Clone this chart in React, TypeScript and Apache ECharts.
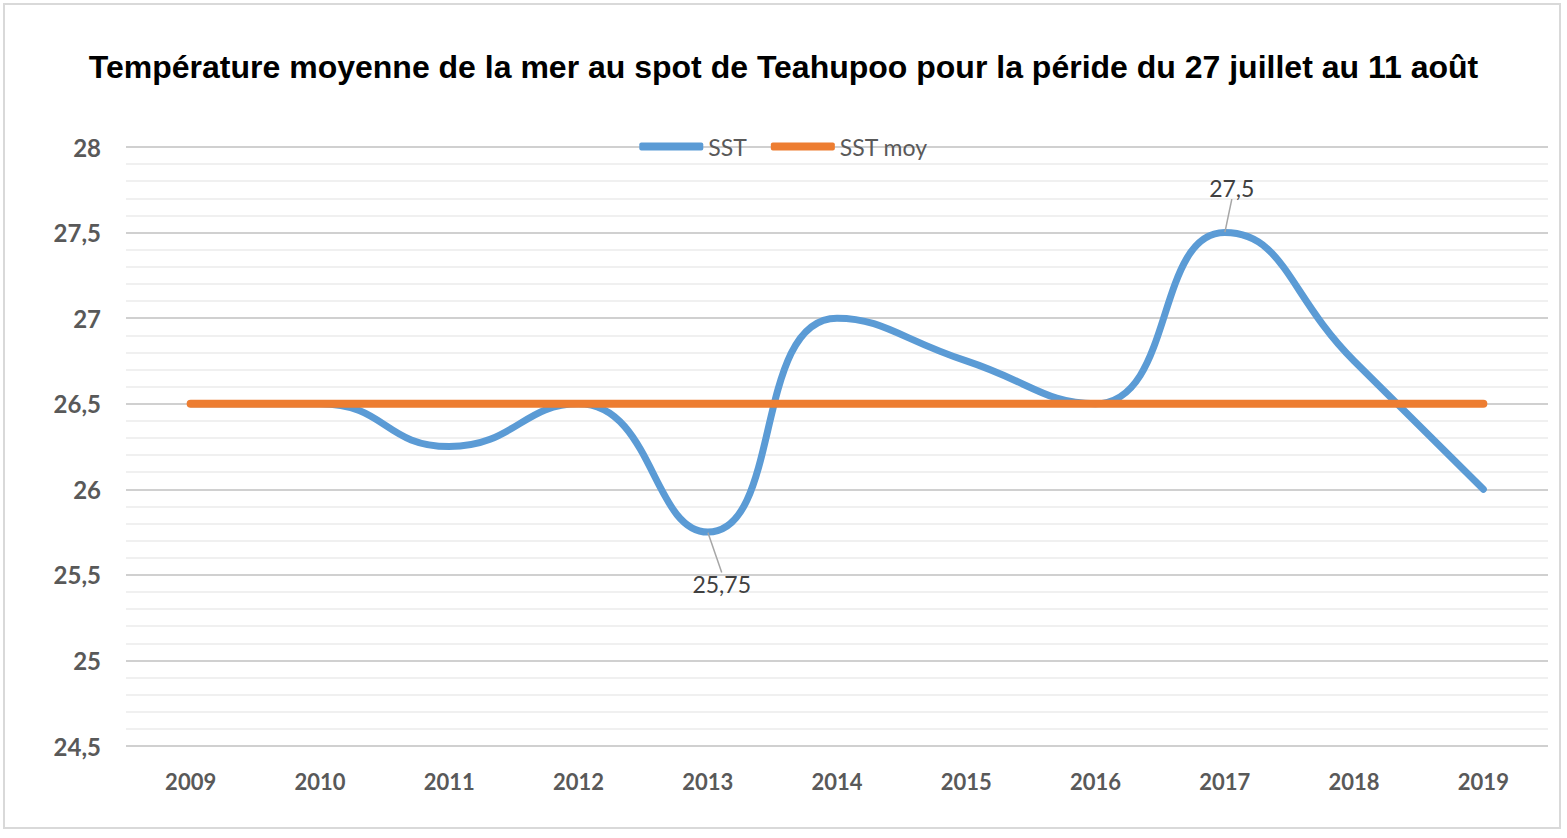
import React, { useEffect, useRef } from "react";
import * as echarts from "echarts";

const years = ["2009", "2010", "2011", "2012", "2013", "2014", "2015", "2016", "2017", "2018", "2019"];
const sst = [26.5, 26.5, 26.25, 26.5, 25.75, 27, 26.75, 26.5, 27.5, 26.75, 26];
const sstMoy = [26.5, 26.5, 26.5, 26.5, 26.5, 26.5, 26.5, 26.5, 26.5, 26.5, 26.5];
const labelledIndices = [4, 8];
const titleText = "Température moyenne de la mer au spot de Teahupoo pour la péride du 27 juillet au 11 août";

const fmt = (v: number) => String(v).replace(".", ",");

export default function App() {
  const ref = useRef<HTMLDivElement>(null);
  useEffect(() => {
    if (!ref.current) return;
    const chart = echarts.init(ref.current, undefined, { renderer: "svg" });
    const axisFont = "Lato";
    chart.setOption({
      animation: false,
      backgroundColor: "#ffffff",
      title: {
        text: titleText,
        left: "center",
        top: 46,
        textStyle: {
          fontFamily: "Liberation Sans",
          fontWeight: "bold",
          fontSize: 32,
          color: "#000000",
        },
      },
      graphic: [
        {
          type: "rect",
          shape: { x: 4, y: 4, width: 1556, height: 824 },
          style: { fill: "none", stroke: "#d9d9d9", lineWidth: 2 },
          silent: true,
        },
      ],
      legend: {
        top: 130,
        left: "center",
        itemWidth: 64,
        itemHeight: 8,
        itemGap: 24,
        icon: "roundRect",
        textStyle: { fontFamily: axisFont, fontSize: 23, color: "#595959" },
        data: ["SST", "SST moy"],
      },
      grid: { left: 126, right: 19, top: 147, bottom: 92, containLabel: false },
      xAxis: {
        type: "category",
        data: years,
        boundaryGap: true,
        axisLine: { show: false },
        axisTick: { show: false },
        axisLabel: {
          fontFamily: axisFont,
          fontWeight: "bold",
          fontSize: 22,
          color: "#595959",
          margin: 24,
        },
      },
      yAxis: {
        type: "value",
        min: 24.5,
        max: 28,
        interval: 0.5,
        axisLine: { show: false },
        axisTick: { show: false },
        axisLabel: {
          fontFamily: axisFont,
          fontWeight: "bold",
          fontSize: 24,
          color: "#595959",
          margin: 25,
          formatter: (v: number) => fmt(v),
        },
        splitLine: { lineStyle: { color: "#d0d0d0", width: 2 } },
        minorTick: { show: false, splitNumber: 5 },
        minorSplitLine: { show: true, lineStyle: { color: "#ebebeb", width: 1.5 } },
      },
      series: [
        {
          name: "SST",
          type: "line",
          data: sst.map((v, i) => ({
            value: v,
            label: {
              show: labelledIndices.includes(i),
              position: v < 26 ? "bottom" : "top",
            },
          })),
          smooth: 0.5,
          showSymbol: true,
          symbol: "circle",
          symbolSize: 1,
          itemStyle: { color: "#5B9BD5" },
          color: "#5B9BD5",
          lineStyle: { color: "#5B9BD5", width: 7, cap: "round", join: "round" },
          label: {
            show: false,
            fontFamily: axisFont,
            fontSize: 23,
            color: "#404040",
            formatter: (p: any) => fmt(p.value),
          },
          labelLine: { show: true, lineStyle: { color: "#a6a6a6", width: 1.5 } },
          labelLayout: (params: any) => {
            if (params.dataIndex === 4) return { dx: 14, dy: 35 };
            if (params.dataIndex === 8) return { dx: 7, dy: -28 };
            return {};
          },
          z: 2,
        },
        {
          name: "SST moy",
          type: "line",
          data: sstMoy,
          showSymbol: false,
          symbol: "none",
          color: "#ED7D31",
          lineStyle: { color: "#ED7D31", width: 8, cap: "round" },
          z: 3,
        },
      ],
    });
    return () => chart.dispose();
  }, []);
  return (
    <div
      ref={ref}
      style={{ position: "absolute", left: 0, top: 0, width: 1567, height: 838 }}
    />
  );
}
